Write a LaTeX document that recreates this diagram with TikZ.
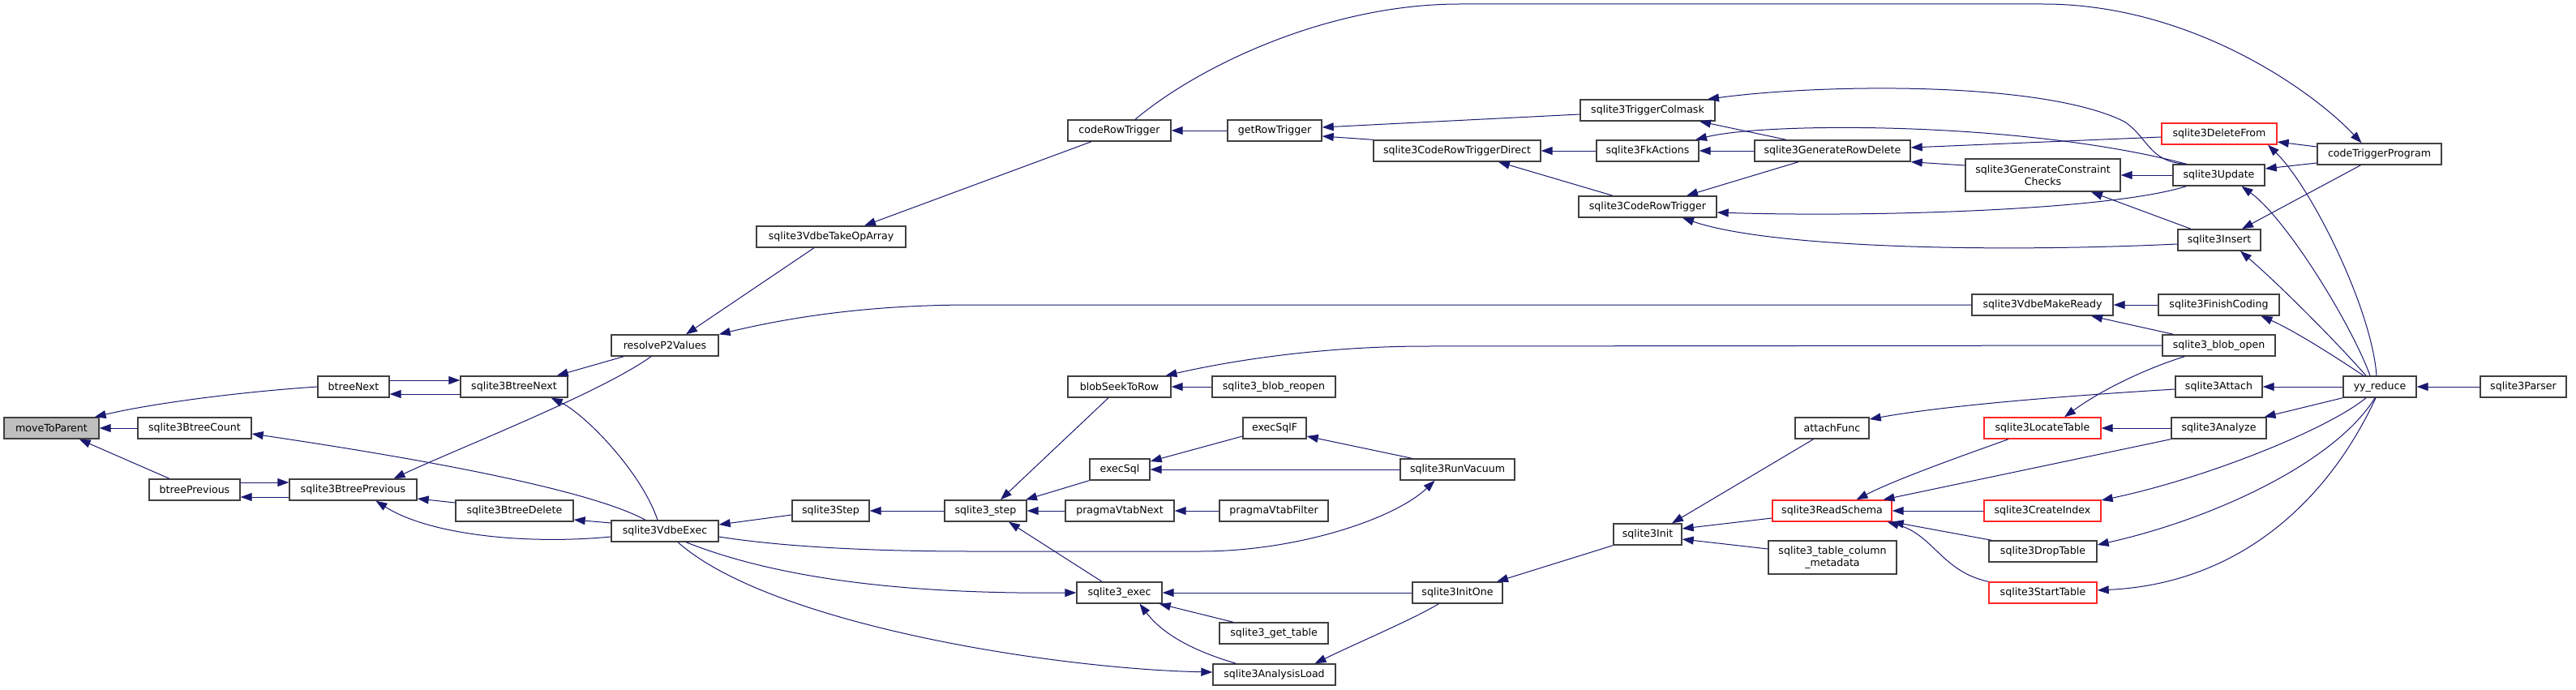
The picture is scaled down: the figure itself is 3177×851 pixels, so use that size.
\documentclass[tikz,border=0pt]{standalone}
\usepackage{fontspec}
\setmainfont{DejaVu Sans}
\usetikzlibrary{arrows.meta}
\definecolor{edgec}{HTML}{191970}
\definecolor{nodeg}{HTML}{BFBFBF}
\begin{document}
\begin{tikzpicture}[x=1pt,y=-1pt,
  box/.style={draw=black!75, line width=1.4pt, fill=white, minimum height=26pt, minimum width=#1, inner sep=0pt, font=\fontsize{12.6pt}{15pt}\selectfont},
  rbox/.style={box=#1, draw=red!85},
  e/.style={draw=edgec, line width=1pt, {Triangle[length=14pt,width=10pt]}-}]
\useasboundingbox[fill=white] (0,0) rectangle (3177,851);
% nodes
\node[box=117pt, fill=nodeg] (mtp) at (63.5,528) {moveToParent};
\node[box=140pt] (btc) at (240,528) {sqlite3BtreeCount};
\node[box=88pt] (btn) at (436,477) {btreeNext};
\node[box=132pt] (sbn) at (634,477) {sqlite3BtreeNext};
\node[box=112pt] (btp) at (240,604) {btreePrevious};
\node[box=157pt] (sbp) at (435.5,604) {sqlite3BtreePrevious};
\node[box=145pt] (sbd) at (634.5,630) {sqlite3BtreeDelete};
\node[box=132pt] (vde) at (820,655) {sqlite3VdbeExec};
\node[box=132pt] (rp2) at (820,426) {resolveP2Values};
\node[box=127pt] (crt) at (1380.5,161) {codeRowTrigger};
\node[box=116pt] (grt) at (1572,161) {getRowTrigger};
\node[box=184pt] (toa) at (1025,292) {sqlite3VdbeTakeOpArray};
\node[box=127pt] (bsr) at (1380.5,477) {blobSeekToRow};
\node[box=152pt] (bro) at (1571,477) {sqlite3\_blob\_reopen};
\node[box=78pt] (esf) at (1572,528) {execSqlF};
\node[box=74pt] (esq) at (1381,579) {execSql};
\node[box=95pt] (stp) at (1024.5,630) {sqlite3Step};
\node[box=101pt] (s3s) at (1215.5,630) {sqlite3\_step};
\node[box=134pt] (pvn) at (1381,630) {pragmaVtabNext};
\node[box=134pt] (pvf) at (1571,630) {pragmaVtabFilter};
\node[box=105pt] (sex) at (1380.5,731) {sqlite3\_exec};
\node[box=134pt] (sgt) at (1571,781) {sqlite3\_get\_table};
\node[box=151pt] (sal) at (1571.5,832) {sqlite3AnalysisLoad};
\node[box=141pt] (srv) at (1797.5,579) {sqlite3RunVacuum};
\node[box=111pt] (sio) at (1797.5,731) {sqlite3InitOne};
\node[box=84pt] (sin) at (2032,659) {sqlite3Init};
\node[box=91pt] (atf) at (2259.5,528) {attachFunc};
\node[rbox=147pt] (rsc) at (2259.5,630) {sqlite3ReadSchema};
\node[box=158pt, minimum height=41pt, align=center] (tcm) at (2260,687.5) {sqlite3\_table\_column\\\_metadata};
\node[box=166pt] (tcl) at (2032,136) {sqlite3TriggerColmask};
\node[box=206pt] (crd) at (1797,186) {sqlite3CodeRowTriggerDirect};
\node[box=126pt] (fka) at (2032,186) {sqlite3FkActions};
\node[box=192pt] (grd) at (2260,186) {sqlite3GenerateRowDelete};
\node[box=170pt] (cr3) at (2032,255) {sqlite3CodeRowTrigger};
\node[rbox=142pt] (dlf) at (2737,165) {sqlite3DeleteFrom};
\node[box=153pt] (ctp) at (2934.5,190) {codeTriggerProgram};
\node[box=191pt, minimum height=40pt, align=center] (gcc) at (2519.5,216) {sqlite3GenerateConstraint\\Checks};
\node[box=113pt] (upd) at (2736.5,216) {sqlite3Update};
\node[box=102pt] (ins) at (2737,296) {sqlite3Insert};
\node[box=174pt] (vmr) at (2519,376) {sqlite3VdbeMakeReady};
\node[box=149pt] (fco) at (2736.5,376) {sqlite3FinishCoding};
\node[box=139pt] (bop) at (2736.5,426) {sqlite3\_blob\_open};
\node[box=107pt] (att) at (2736.5,477) {sqlite3Attach};
\node[box=90pt] (yyr) at (2935,477) {yy\_reduce};
\node[box=106pt] (par) at (3112,477) {sqlite3Parser};
\node[rbox=144pt] (lct) at (2519,528) {sqlite3LocateTable};
\node[box=117pt] (ana) at (2736.5,528) {sqlite3Analyze};
\node[rbox=144pt] (cix) at (2519,630) {sqlite3CreateIndex};
\node[box=133pt] (dtb) at (2519.5,680) {sqlite3DropTable};
\node[rbox=133pt] (stb) at (2519.5,731) {sqlite3StartTable};
% edges
\draw[e] (mtp.east) -- (btc.west);
\draw[e] ([xshift=-6pt]mtp.north east) .. controls (190,497) and (300,483) .. (btn.west);
\draw[e] ([xshift=-25pt]mtp.south east) -- ([xshift=-31pt]btp.north);
\draw[e] ([yshift=-9pt]btn.east) -- ([yshift=-9pt]sbn.west);
\draw[e] ([yshift=8pt]sbn.west) -- ([yshift=8pt]btn.east);
\draw[e] ([yshift=-9pt]btp.east) -- ([yshift=-9pt]sbp.west);
\draw[e] ([yshift=9pt]sbp.west) -- ([yshift=9pt]btp.east);
\draw[e] ([xshift=-14pt]sbn.north east) -- ([xshift=16pt]rp2.south west);
\draw[e] ([xshift=-21pt]sbn.south east) .. controls (720,510) and (790,580) .. ([xshift=-9pt]vde.north);
\draw[e] ([yshift=-7pt]btc.east) .. controls (480,560) and (720,600) .. ([xshift=-24pt]vde.north);
\draw[e] ([xshift=50pt]sbp.north) .. controls (560,555) and (740,485) .. ([xshift=-17pt]rp2.south);
\draw[e] ([yshift=-11pt]sbp.east) -- ([yshift=10pt]sbd.west);
\draw[e] ([xshift=28pt]sbp.south) .. controls (530,660) and (650,672) .. ([yshift=-7pt]vde.west);
\draw[e] ([yshift=-11pt]sbd.east) -- ([yshift=10pt]vde.west);
\draw[e] ([xshift=26pt]rp2.north) -- ([xshift=-21pt]toa.south);
\draw[e] (rp2.north east) .. controls (1000,385) and (1100,376) .. (1200,376) -- (vmr.west);
\draw[e] ([xshift=41pt]toa.north) -- ([xshift=-34.5pt]crt.south);
\draw[e] (crt.east) -- (grt.west);
\draw[e] ([xshift=-22pt]ctp.north) .. controls (2850,110) and (2700,5) .. (2520,5) -- (1800,5) .. controls (1640,5) and (1480,80) .. ([xshift=19.5pt]crt.north);
\draw[e] ([yshift=4pt]grt.east) -- ([yshift=-5pt]tcl.west);
\draw[e] ([yshift=-7pt]grt.east) -- (crd.north west);
\draw[e] (crd.east) -- (fka.west);
\draw[e] ([xshift=51pt]crd.south) -- ([xshift=-43pt]cr3.north);
\draw[e] ([xshift=64pt]tcl.south) -- ([xshift=-57pt]grd.north);
\draw[e] ([xshift=74pt]tcl.north) .. controls (2250,103) and (2520,100) .. (2620,150) .. controls (2650,170) and (2650,200) .. ([xshift=-40pt]upd.north);
\draw[e] (fka.east) -- (grd.west);
\draw[e] ([xshift=59pt]fka.north) .. controls (2180,150) and (2500,150) .. ([xshift=-40pt]upd.north);
\draw[e] ([xshift=48pt]cr3.north) -- ([xshift=-42pt]grd.south);
\draw[e] ([yshift=-7pt]cr3.east) .. controls (2300,268) and (2600,260) .. ([xshift=-40pt]upd.south);
\draw[e] ([xshift=43pt]cr3.south) .. controls (2180,305) and (2450,312) .. ([yshift=-5pt]ins.west);
\draw[e] ([yshift=4pt]grd.east) -- ([yshift=-4pt]dlf.west);
\draw[e] (grd.south east) -- ([yshift=12pt]gcc.west);
\draw[e] (gcc.east) -- (upd.west);
\draw[e] ([xshift=59.5pt]gcc.south) -- ([xshift=-35pt]ins.north);
\draw[e] ([yshift=-10pt]dlf.east) -- ([yshift=9pt]ctp.west);
\draw[e] ([yshift=8pt]upd.east) -- ([yshift=-11pt]ctp.west);
\draw[e] ([xshift=28pt]ins.north) -- ([xshift=-23pt]ctp.south);
\draw[e] ([xshift=60pt]dlf.south) .. controls (2850,230) and (2925,380) .. ([xshift=-4pt]yyr.north);
\draw[e] ([xshift=28pt]upd.south) .. controls (2820,270) and (2900,400) .. ([xshift=-12pt]yyr.north);
\draw[e] ([xshift=26pt]ins.south) .. controls (2810,350) and (2880,420) .. ([xshift=-17pt]yyr.north);
\draw[e] ([xshift=52pt]fco.south) .. controls (2830,408) and (2880,440) .. ([xshift=-20pt]yyr.north);
\draw[e] (vmr.east) -- (fco.west);
\draw[e] (yyr.east) -- (par.west);
\draw[e] (att.east) -- (yyr.west);
\draw[e] ([xshift=56pt]ana.north) -- (yyr.south west);
\draw[e] ([yshift=13pt]cix.east) .. controls (2720,590) and (2870,530) .. ([xshift=-17pt]yyr.south);
\draw[e] ([yshift=8pt]dtb.east) .. controls (2730,640) and (2880,570) .. ([xshift=-6pt]yyr.south);
\draw[e] ([yshift=3pt]stb.east) .. controls (2760,720) and (2870,620) .. ([xshift=-5pt]yyr.south);
\draw[e] ([xshift=57pt]bsr.north) .. controls (1540,440) and (1650,427) .. (1760,427) -- (bop.west);
\draw[e] (bsr.east) -- (bro.west);
\draw[e] ([xshift=60pt]vmr.south) -- ([xshift=-56pt]bop.north);
\draw[e] ([xshift=27pt]lct.north) .. controls (2600,475) and (2660,450) .. ([xshift=-42pt]bop.south);
\draw[e] (lct.east) -- (ana.west);
\draw[e] ([yshift=11pt]atf.east) .. controls (2400,500) and (2550,488) .. ([yshift=-3pt]att.west);
\draw[e] ([xshift=30pt]sin.north) -- ([xshift=-23pt]atf.south);
\draw[e] ([yshift=7pt]sin.east) -- ([yshift=-9pt]rsc.west);
\draw[e] ([yshift=-6pt]sin.east) -- ([yshift=10.5pt]tcm.west);
\draw[e] ([xshift=48.5pt]sio.north) -- (sin.south west);
\draw[e] ([xshift=30pt]rsc.north) .. controls (2340,590) and (2440,555) .. ([xshift=-42pt]lct.south);
\draw[e] ([xshift=63pt]rsc.north) -- (ana.south west);
\draw[e] (rsc.east) -- (cix.west);
\draw[e] (rsc.south east) -- ([xshift=4pt]dtb.north west);
\draw[e] ([xshift=-6pt]rsc.south east) .. controls (2385,660) and (2395,705) .. (stb.north west);
\draw[e] ([xshift=-28pt]srv.south) .. controls (1720,640) and (1600,680) .. (1480,680) -- (1200,680) .. controls (1050,680) and (950,672) .. ([yshift=-7pt]vde.east);
\draw[e] (sex.west) .. controls (1100,733) and (950,710) .. ([xshift=26pt]vde.south);
\draw[e] ([yshift=3pt]sal.west) .. controls (1300,825) and (950,770) .. ([xshift=16pt]vde.south);
\draw[e] (sex.east) -- (sio.west);
\draw[e] ([xshift=-4pt]sex.south east) -- ([xshift=-50pt]sgt.north);
\draw[e] ([xshift=25pt]sex.south) .. controls (1440,790) and (1490,808) .. ([xshift=-47pt]sal.north);
\draw[e] ([xshift=50pt]sal.north) .. controls (1680,790) and (1740,765) .. ([xshift=-23pt]sio.south);
\draw[e] ([yshift=8pt]vde.east) -- ([yshift=-5pt]stp.west);
\draw[e] (stp.east) -- (s3s.west);
\draw[e] ([xshift=18.5pt]s3s.north) -- ([xshift=-13.5pt]bsr.south);
\draw[e] ([xshift=49.5pt]s3s.north) -- (esq.south west);
\draw[e] (s3s.east) -- (pvn.west);
\draw[e] ([xshift=28.5pt]s3s.south) -- ([xshift=-21.5pt]sex.north);
\draw[e] (pvn.east) -- (pvf.west);
\draw[e] ([yshift=10pt]esq.east) -- ([yshift=-10pt]esf.west);
\draw[e] (esq.east) -- (srv.west);
\draw[e] ([yshift=-10pt]esf.east) -- ([xshift=-56pt]srv.north);
\end{tikzpicture}
\end{document}
